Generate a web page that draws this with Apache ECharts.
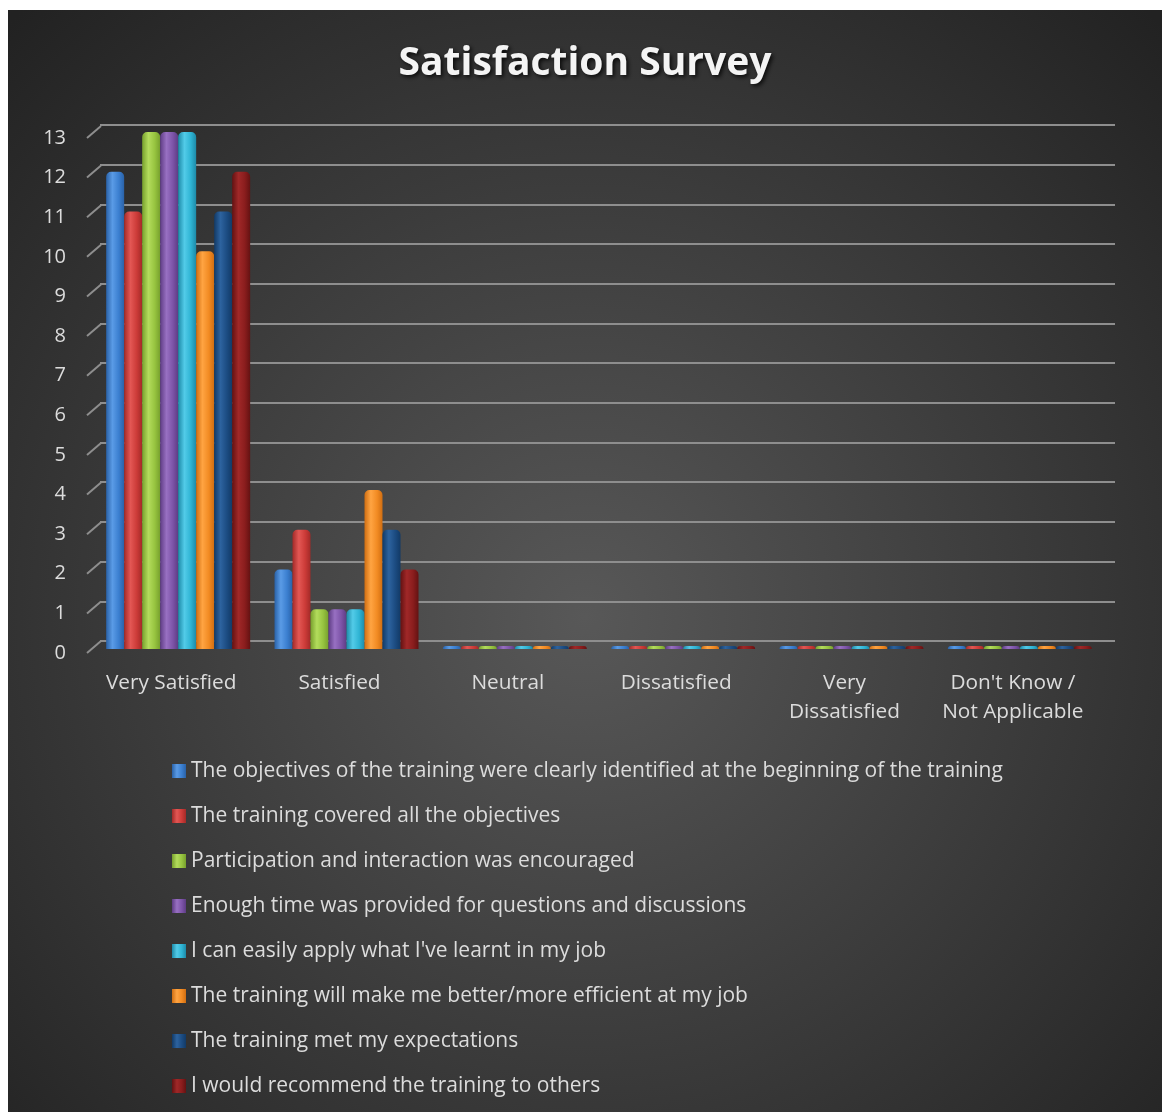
<!doctype html>
<html>
<head>
    <meta charset="utf-8">
    <title>Satisfaction Survey</title>
    <script src="https://cdn.jsdelivr.net/npm/echarts@6/dist/echarts.min.js"></script>
    <style>
        html, body { margin: 0; padding: 0; background: #ffffff; }
        #main { position: absolute; left: 8px; top: 10px; width: 1154px; height: 1102px; }
    </style>
</head>
<body>
    <!-- chart container, offset to leave the white margin of the original -->
    <div id="main"></div>
<script type="text/javascript">
    // categories (x axis)
    var categories = ['Very Satisfied', 'Satisfied', 'Neutral', 'Dissatisfied', 'Very\nDissatisfied', "Don't Know /\nNot Applicable"];
    var yTicks = [0, 1, 2, 3, 4, 5, 6, 7, 8, 9, 10, 11, 12, 13];

    // one array per question
    var objectivesIdentified = [12, 2, 0, 0, 0, 0];
    var coveredObjectives    = [11, 3, 0, 0, 0, 0];
    var participation        = [13, 1, 0, 0, 0, 0];
    var enoughTime           = [13, 1, 0, 0, 0, 0];
    var canApply             = [13, 1, 0, 0, 0, 0];
    var moreEfficient        = [10, 4, 0, 0, 0, 0];
    var metExpectations      = [11, 3, 0, 0, 0, 0];
    var wouldRecommend       = [12, 2, 0, 0, 0, 0];

    var seriesNames = [
        'The objectives of the training were clearly identified at the beginning of the training',
        'The training covered all the objectives',
        'Participation and interaction was encouraged',
        'Enough time was provided for questions and discussions',
        "I can easily apply what I've learnt in my job",
        'The training will make me better/more efficient at my job',
        'The training met my expectations',
        'I would recommend the training to others'
    ];
    var seriesData = [objectivesIdentified, coveredObjectives, participation, enoughTime,
                      canApply, moreEfficient, metExpectations, wouldRecommend];

    // [dark edge, highlight, base]
    var palette = [
        ['#2a62a8', '#5a9be6', '#3b7fd0'],
        ['#a32a28', '#e35754', '#cc3b38'],
        ['#77a02d', '#b3dc5c', '#97c440'],
        ['#5e3c84', '#9870c2', '#7d54a8'],
        ['#1d8aa8', '#52cbe8', '#2fb4d4'],
        ['#d06e12', '#ffa442', '#f28b23'],
        ['#123a66', '#2d639f', '#1c4c82'],
        ['#641212', '#a02828', '#8a1d1d']
    ];

    function cyl(c) {
        return {
            type: 'linear', x: 0, y: 0, x2: 1, y2: 0,
            colorStops: [
                { offset: 0, color: c[0] },
                { offset: 0.35, color: c[1] },
                { offset: 0.7, color: c[2] },
                { offset: 1, color: c[0] }
            ]
        };
    }

    var font = '"Open Sans", sans-serif';
    var series = [];
    for (var i = 0; i < seriesNames.length; i++) {
        series.push({
            name: seriesNames[i],
            type: 'bar',
            xAxisIndex: 1,
            yAxisIndex: 1,
            barWidth: 18,
            barGap: '0%',
            barMinHeight: 3,
            itemStyle: { color: cyl(palette[i]), borderRadius: [5, 5, 0, 0] },
            data: seriesData[i]
        });
    }
    // slanted side-wall ticks (front plane -> back wall)
    series.push({
        type: 'custom',
        xAxisIndex: 2,
        yAxisIndex: 2,
        silent: true,
        data: yTicks.map(function (v) { return [0, v]; }),
        renderItem: function (params, api) {
            var p = api.coord([0, api.value(1)]);
            var x0 = params.coordSys.x;
            return {
                type: 'line',
                shape: { x1: x0, y1: p[1], x2: x0 + 14, y2: p[1] - 12 },
                style: { stroke: '#8e8e8e', lineWidth: 2 }
            };
        }
    });

    var myChart = echarts.init(document.getElementById('main'));
    var option = {
        backgroundColor: {
            type: 'radial', x: 0.5, y: 0.55, r: 0.75,
            colorStops: [
                { offset: 0, color: '#585858' },
                { offset: 1, color: '#222222' }
            ]
        },
        textStyle: { fontFamily: font },
        title: {
            text: 'Satisfaction Survey',
            left: 'center',
            top: 29,
            textStyle: {
                color: '#f4f4f4', fontSize: 39, fontWeight: 'bold', fontFamily: font,
                textShadowColor: 'rgba(0,0,0,0.8)', textShadowBlur: 4, textShadowOffsetX: 2, textShadowOffsetY: 2
            }
        },
        legend: {
            orient: 'vertical',
            left: 159,
            top: 744,
            itemWidth: 14,
            itemHeight: 14,
            itemGap: 21,
            icon: 'rect',
            textStyle: { color: '#dcdcdc', fontSize: 21, lineHeight: 24, fontFamily: font },
            data: seriesNames
        },
        grid: [
            // back wall (grid lines)
            { left: 92, right: 47, top: 115, bottom: 471 },
            // bars
            { left: 86, right: 58, top: 122, bottom: 463 },
            // front plane (labels)
            { left: 79, right: 65, top: 128, bottom: 459 }
        ],
        xAxis: [
            { gridIndex: 0, type: 'category', data: categories, show: false },
            { gridIndex: 1, type: 'category', data: categories, show: false },
            {
                gridIndex: 2, type: 'category', data: categories,
                axisLine: { show: false }, axisTick: { show: false },
                axisLabel: { color: '#dcdcdc', fontSize: 20.8, lineHeight: 29, margin: 16, interval: 0, fontFamily: font }
            }
        ],
        yAxis: [
            {
                gridIndex: 0, type: 'value', min: 0, max: 13, interval: 1,
                axisLine: { show: false }, axisTick: { show: false }, axisLabel: { show: false },
                splitLine: { show: true, lineStyle: { color: '#8e8e8e', width: 2 } }
            },
            {
                gridIndex: 1, type: 'value', min: 0, max: 13, interval: 1, show: false,
                splitLine: { show: false }
            },
            {
                gridIndex: 2, type: 'value', min: 0, max: 13, interval: 1,
                axisLine: { show: false }, axisTick: { show: false },
                splitLine: { show: false },
                axisLabel: {
                    color: '#dcdcdc', fontSize: 20, margin: 21, fontFamily: font,
                    formatter: function (v) { return yTicks.indexOf(v) >= 0 ? String(v) : ''; }
                }
            }
        ],
        series: series
    };
    myChart.setOption(option);
</script>
</body>
</html>
